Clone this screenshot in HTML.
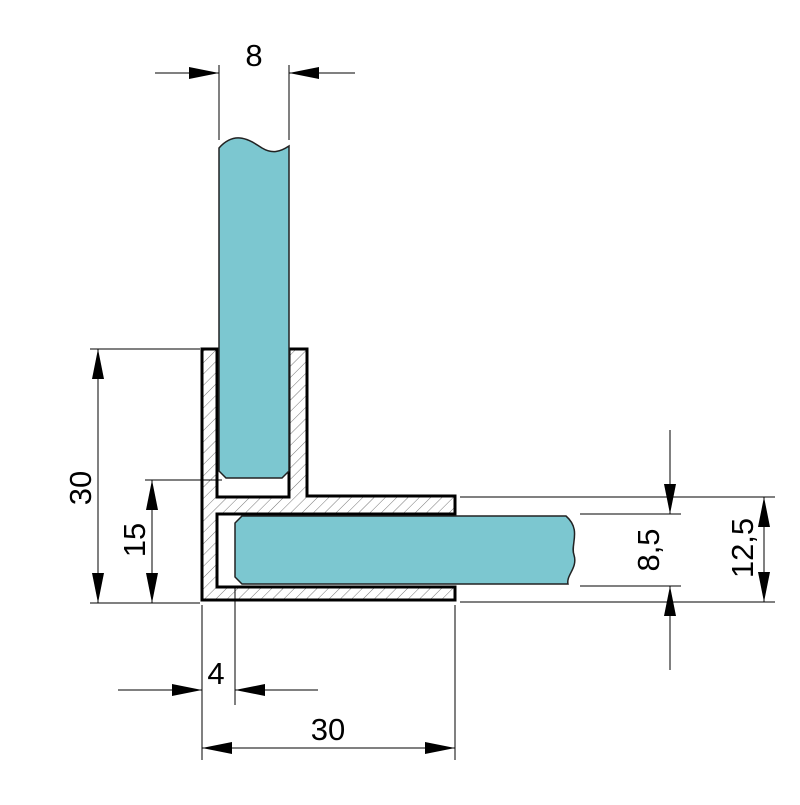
<!DOCTYPE html>
<html><head><style>body{margin:0;background:#fff}</style></head><body>
<svg width="800" height="800" viewBox="0 0 800 800" xmlns="http://www.w3.org/2000/svg" font-family="Liberation Sans, sans-serif">
<defs>
<pattern id="h" width="8" height="8" patternUnits="userSpaceOnUse" patternTransform="rotate(45)">
<rect width="8" height="8" fill="#fff"/><line x1="0" y1="0" x2="0" y2="8" stroke="#777" stroke-width="1"/>
</pattern>
<marker id="a" viewBox="0 0 30 12" refX="30" refY="6" markerWidth="30" markerHeight="12" markerUnits="userSpaceOnUse" orient="auto-start-reverse"><path d="M0,0 L30,6 L0,12z" fill="#000"/></marker>
</defs>
<path d="M202,349 H217 V497 H289 V349 H307 V496 H455 V514 H217 V587 H455 V600 H202 Z" fill="url(#h)" stroke="#000" stroke-width="3" stroke-linejoin="miter"/>
<path d="M219,148 C235,130 250,140 262,148 C272,154 280,152 289,146 V471 L282,478 H226 L219,471 Z" fill="#7cc7d0" stroke="#222" stroke-width="1.5"/>
<path d="M242,516 H566 C582,530 570,545 574,555 C578,568 566,575 568,584 H242 L235,577 V523 Z" fill="#7cc7d0" stroke="#222" stroke-width="1.5"/>
<g stroke="#000" stroke-width="1" fill="none">
<line x1="219" y1="65" x2="219" y2="140"/><line x1="289" y1="65" x2="289" y2="140"/>
<line x1="155" y1="73" x2="219" y2="73" marker-end="url(#a)"/><line x1="355" y1="73" x2="289" y2="73" marker-end="url(#a)"/>
<line x1="90" y1="349" x2="200" y2="349"/><line x1="90" y1="603" x2="200" y2="603"/>
<line x1="98" y1="349" x2="98" y2="603" marker-start="url(#a)" marker-end="url(#a)"/>
<line x1="145" y1="480" x2="222" y2="480"/>
<line x1="152" y1="480" x2="152" y2="603" marker-start="url(#a)" marker-end="url(#a)"/>
<line x1="202" y1="605" x2="202" y2="760"/><line x1="235" y1="587" x2="235" y2="705"/>
<line x1="118" y1="690" x2="202" y2="690" marker-end="url(#a)"/><line x1="318" y1="690" x2="235" y2="690" marker-end="url(#a)"/>
<line x1="455" y1="605" x2="455" y2="760"/>
<line x1="202" y1="748" x2="455" y2="748" marker-start="url(#a)" marker-end="url(#a)"/>
<line x1="460" y1="497" x2="775" y2="497"/><line x1="460" y1="602" x2="775" y2="602"/>
<line x1="580" y1="514" x2="681" y2="514"/><line x1="580" y1="586" x2="681" y2="586"/>
<line x1="670" y1="430" x2="670" y2="514" marker-end="url(#a)"/><line x1="670" y1="670" x2="670" y2="586" marker-end="url(#a)"/>
<line x1="764" y1="497" x2="764" y2="602" marker-start="url(#a)" marker-end="url(#a)"/>
</g>
<g font-size="31" fill="#000" text-anchor="middle">
<text x="254" y="66">8</text>
<text x="216" y="684">4</text>
<text x="328" y="740">30</text>
<text transform="translate(91,488) rotate(-90)">30</text>
<text transform="translate(145,540) rotate(-90)">15</text>
<text transform="translate(659,550) rotate(-90)">8,5</text>
<text transform="translate(753,548) rotate(-90)">12,5</text>
</g>
</svg>
</body></html>
